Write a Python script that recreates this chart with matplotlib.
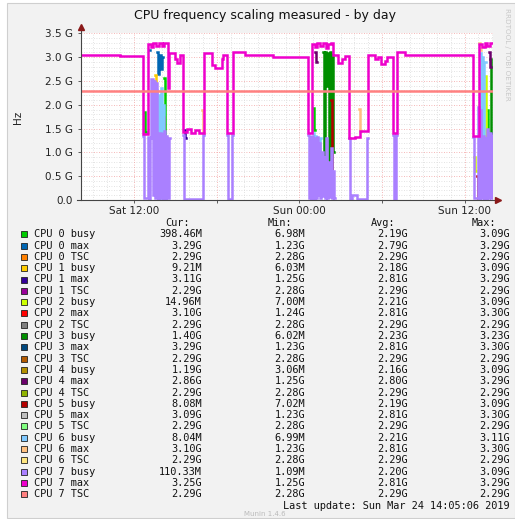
#!python3

import numpy as np
import matplotlib
matplotlib.use("Agg")
import matplotlib.pyplot as plt
from matplotlib.patches import Rectangle

nan = np.nan

# x = hours since Sat 00:00, y = GHz (munin samples every 5 minutes)
max7_t = [8.14, 10.97, 12.64, 13.00, 13.20, 13.40, 13.60, 13.80, 14.00, 14.20,
          14.45, 14.53, 14.96, 15.11, 15.33, 15.54, 15.80, 16.10, 16.40, 16.70,
          17.07, 17.65, 17.87, 18.38, 18.45, 18.74, 19.18, 20.05, 22.08, 24.62,
          24.91, 25.10, 25.30, 25.50, 25.70, 25.90, 26.10, 26.30, 26.44, 26.80,
          27.09, 27.31, 27.60, 28.03, 28.40, 28.98, 29.49, 29.71, 29.92, 30.21,
          30.36, 30.80, 31.08, 31.67, 36.61, 37.04, 37.25, 37.45, 37.65, 37.85,
          38.06]
max7_v = [3.04, 3.02, 1.38, 3.28, 3.22, 3.30, 3.24, 3.30, 3.23, 3.29,
          2.35, 3.08, 2.95, 2.87, 3.05, 1.42, 1.50, 1.40, 1.48, 1.40,
          3.08, 2.84, 2.77, 2.95, 3.05, 1.40, 3.10, 3.05, 3.00, 1.40,
          3.28, 3.22, 3.30, 3.24, 3.30, 3.20, 3.28, 3.30, 3.05, 2.87,
          2.95, 3.02, 1.30, 1.33, 1.45, 3.05, 2.95, 3.00, 2.85, 2.92,
          3.00, 1.40, 3.10, 3.05, 1.35, 3.28, 3.22, 3.30, 3.24, 3.30,
          3.30]

# CPU 7 busy: busy bursts (consecutive 5 min samples) plus idle dips
busy7_a_start, busy7_a = 13.00, [1.32, 0.03, 1.30, 2.55, 0.10, 2.50, 0.04, 2.45, 1.35, 0.03,
                                 1.40, 0.05, 1.38, 0.02, 1.45, 0.04, 1.35, 0.05, 1.30]
busy7_b_start, busy7_b = 24.77, [1.32, 0.05, 1.35, 0.03, 1.30, 0.04, 1.33, 0.10, 1.20, 0.05,
                                 1.00, 0.08, 0.90, 0.05, 1.30, 0.04, 0.80, 0.06, 1.10, 0.05,
                                 0.60, 0.04]
busy7_c_start, busy7_c = 36.97, [1.95, 0.05, 1.90, 0.04, 1.35, 0.05, 1.30, 0.03, 1.50, 0.05,
                                 1.40, 0.04, 1.35]
busy7_idle_t = [12.64, 12.72, 14.60, 15.54, 15.62, 17.00, 17.07, 18.74, 18.82, 19.10,
                19.18, 24.62, 24.70, 26.58, 27.60, 27.67, 27.82, 28.18, 28.90, 28.98,
                30.80, 30.88, 31.00, 31.08, 36.61, 36.68, 38.06]
busy7_idle_v = [1.35, 0.04, nan, 1.36, 0.03, 1.36, nan, 1.36, 0.03, 1.36,
                nan, 1.36, 0.04, nan, 1.30, 0.03, 0.10, 0.03, 1.30, nan,
                1.36, 0.03, 1.36, nan, 1.33, 0.04, 1.35]

# the other cores only show through during the busy bursts
busy0_t = [12.72, 12.79, 12.87, 14.17, 14.25, 14.33, 25.00, 25.08, 25.16, 37.62, 37.70, 37.78]
busy0_v = [1.85, 1.43, nan, 2.56, 1.26, nan, 1.93, 1.47, nan, 1.90, 1.30, nan]
max0_t = [13.08, 13.15, 13.67, 13.75, 13.83, 13.92, 14.00, 14.08]
max0_v = [3.15, nan, 3.10, 2.65, 3.05, 2.75, 3.00, nan]
busy1_t = [13.50, 13.58, 13.66]
busy1_v = [2.62, 1.90, nan]
max1_t = [15.62, 15.70, 15.78]
max1_v = [1.48, 1.30, nan]
busy2_t = [25.80, 25.88, 25.96, 36.70, 36.78, 36.86, 37.50, 37.58, 37.66]
busy2_v = [1.00, 0.50, nan, 0.90, 0.60, nan, 2.60, 1.00, nan]
busy3_t = [25.70, 25.78, 25.87, 25.95, 26.03, 26.12, 26.20, 26.28, 26.37, 26.45, 26.53,
           37.85, 37.93, 38.00]
busy3_v = [3.10, 0.30, 3.10, 2.40, 3.08, 0.50, 3.10, 0.30, 3.05, 1.00, nan,
           2.97, 1.40, nan]
max4_t = [25.10, 25.18, 25.26, 37.75, 37.83, 37.90]
max4_v = [3.10, 2.90, nan, 3.10, 2.80, nan]
busy5_t = [13.42, 13.50, 13.58, 14.08, 14.16, 14.25, 25.45, 25.52, 25.60,
           26.28, 26.36, 26.44, 36.90, 36.97, 37.05]
busy5_v = [1.95, 1.68, nan, 1.74, 0.94, nan, 0.60, 0.15, nan,
           2.10, 0.10, nan, 0.50, 0.05, nan]
busy6_t = [13.58, 13.67, 13.75, 13.83, 13.92, 14.00, 14.08, 14.17, 14.25,
           24.99, 25.07, 25.16, 25.24, 25.32, 25.41, 25.49, 25.57,
           37.10, 37.18, 37.27, 37.35, 37.43, 37.52]
busy6_v = [2.30, 0.10, 2.20, 0.05, 2.35, 0.10, 2.00, 0.05, nan,
           1.40, 0.10, 1.35, 0.20, 1.20, 0.10, 1.30, nan,
           3.08, 0.10, 3.00, 0.20, 2.90, nan]
max6_t = [16.93, 17.00, 17.07, 28.33, 28.40, 28.48, 37.05, 37.12, 37.20]
max6_v = [1.90, 1.40, nan, 1.92, 1.45, nan, 3.30, 3.15, nan]
tsc7_t = [8.14, 38.06]
tsc7_v = [2.29, 2.29]

# legend table
names = [f"CPU {c} {k}" for c in range(8) for k in ("busy", "max", "TSC")]
cur = ["398.46M", "3.29G", "2.29G", "9.21M", "3.11G", "2.29G", "14.96M", "3.10G", "2.29G",
       "1.40G", "3.29G", "2.29G", "1.19G", "2.86G", "2.29G", "8.08M", "3.09G", "2.29G",
       "8.04M", "3.10G", "2.29G", "110.33M", "3.25G", "2.29G"]
mins = ["6.98M", "1.23G", "2.28G", "6.03M", "1.25G", "2.28G", "7.00M", "1.24G", "2.28G",
        "6.02M", "1.23G", "2.28G", "3.06M", "1.25G", "2.28G", "7.02M", "1.23G", "2.28G",
        "6.99M", "1.23G", "2.28G", "1.09M", "1.25G", "2.28G"]
avgs = ["2.19G", "2.79G", "2.29G", "2.18G", "2.81G", "2.29G", "2.21G", "2.81G", "2.29G",
        "2.23G", "2.81G", "2.29G", "2.16G", "2.80G", "2.29G", "2.19G", "2.81G", "2.29G",
        "2.21G", "2.81G", "2.29G", "2.20G", "2.81G", "2.29G"]
maxs = ["3.09G", "3.29G", "2.29G", "3.09G", "3.29G", "2.29G", "3.09G", "3.30G", "2.29G",
        "3.23G", "3.30G", "2.29G", "3.09G", "3.29G", "2.29G", "3.09G", "3.30G", "2.29G",
        "3.11G", "3.30G", "2.29G", "3.09G", "3.29G", "2.29G"]

# munin default palette
colors = ["#00CC00", "#0066B3", "#FF8000", "#FFCC00", "#330099", "#990099",
          "#CCFF00", "#FF0000", "#808080", "#008F00", "#00487D", "#B35A00",
          "#B38F00", "#6B006B", "#8FB300", "#B30000", "#BEBEBE", "#80FF80",
          "#80C9FF", "#FFC080", "#FFE680", "#AA80FF", "#EE00CC", "#FF8080"]

W, H = 515, 519


def fx(x):
    return x / W


def fy(y):
    return 1 - y / H


def burst(start, vals):
    return list(start + np.arange(len(vals)) / 12.0)


def main():
    fig = plt.figure(figsize=(W / 100, H / 100), dpi=100)
    fig.patch.set_facecolor("white")
    fig.add_artist(Rectangle((fx(7), fy(518)), (W - 7) / W, 515 / H, transform=fig.transFigure,
                             facecolor="#f2f2f2", edgecolor="#cfcfcf", lw=0.8, zorder=0))

    ax = fig.add_axes([fx(81), fy(200), (493 - 81) / W, (200 - 33.3) / H])
    ax.set_facecolor("white")
    ax.set_xlim(8.137, 38.06)
    ax.set_ylim(0, 3.5)
    for s in ax.spines.values():
        s.set_visible(False)

    # grid
    for v in np.arange(0.1, 3.55, 0.1):
        major = abs(v * 2 - round(v * 2)) < 1e-6
        ax.axhline(v, color="#f2a0a0" if major else "#d9d9d9", lw=0.6,
                   ls=(0, (1, 2)), zorder=0.5)
    for h in range(9, 39):
        ax.axvline(h, color="#f2a0a0" if h % 6 == 0 else "#d9d9d9", lw=0.6,
                   ls=(0, (1, 2)), zorder=0.5)

    busy7_t = (busy7_idle_t[:2] + burst(busy7_a_start, busy7_a) + busy7_idle_t[2:13]
               + burst(busy7_b_start, busy7_b) + busy7_idle_t[13:26]
               + burst(busy7_c_start, busy7_c) + busy7_idle_t[26:])
    busy7_v = (busy7_idle_v[:2] + busy7_a + busy7_idle_v[2:13]
               + busy7_b + busy7_idle_v[13:26] + busy7_c + busy7_idle_v[26:])

    series = [
        (0, busy0_t, busy0_v), (1, max0_t, max0_v), (3, busy1_t, busy1_v),
        (4, max1_t, max1_v), (6, busy2_t, busy2_v), (9, busy3_t, busy3_v),
        (13, max4_t, max4_v), (15, busy5_t, busy5_v), (18, busy6_t, busy6_v),
        (19, max6_t, max6_v), (21, busy7_t, busy7_v), (22, max7_t, max7_v),
        (23, tsc7_t, tsc7_v),
    ]
    for idx, t, v in series:
        ax.plot(t, v, drawstyle="steps-post", color=colors[idx], lw=1.8,
                solid_joinstyle="miter", zorder=2 + idx * 0.01)

    # axes with arrows
    ax.plot([0, 0], [0, 1.03], transform=ax.transAxes, color="#444444", lw=0.8,
            clip_on=False, zorder=5)
    ax.plot([-0.01, 1.01], [0, 0], transform=ax.transAxes, color="#444444", lw=0.8,
            clip_on=False, zorder=5)
    ax.plot([0], [1.035], marker="^", ms=4, color="#8b1a1a", transform=ax.transAxes,
            clip_on=False, zorder=6)
    ax.plot([1.012], [0], marker=">", ms=4, color="#8b1a1a", transform=ax.transAxes,
            clip_on=False, zorder=6)

    yt = np.arange(0, 3.55, 0.5)
    ax.set_yticks(yt)
    ax.set_yticklabels(["0.0"] + [f"{v:.1f} G" for v in yt[1:]])
    ax.set_xticks([12, 18, 24, 30, 36])
    ax.set_xticklabels(["Sat 12:00", "", "Sun 00:00", "", "Sun 12:00"])
    ax.tick_params(axis="both", length=2.5, width=0.6, color="#444444",
                   labelsize=7.5, labelcolor="#222222")
    ax.tick_params(axis="y", pad=3.5)
    ax.tick_params(axis="x", pad=1.5)

    fig.text(fx(265), fy(16), "CPU frequency scaling measured - by day",
             ha="center", va="center", fontsize=9, color="#111111")
    fig.text(fx(18), fy(117), "Hz", rotation=90, ha="center", va="center",
             fontsize=7.5, color="#222222")
    fig.text(fx(507), fy(8), "RRDTOOL / TOBI OETIKER", rotation=270, ha="center",
             va="top", fontsize=5.2, color="#c8c8c8")

    # legend table
    mono = dict(family="DejaVu Sans Mono", fontsize=7.4, color="#111111", va="center")
    for x, head in ((190, "Cur:"), (292.5, "Min:"), (395, "Avg:"), (496, "Max:")):
        fig.text(fx(x), fy(223.3), head, ha="right", **mono)
    for i in range(len(names)):
        y = 234.3 + i * 11.3
        fig.add_artist(Rectangle((fx(20.7), fy(y + 3)), 6 / W, 6 / H,
                                 transform=fig.transFigure, facecolor=colors[i],
                                 edgecolor="#222222", lw=0.6))
        fig.text(fx(33.5), fy(y), names[i], ha="left", **mono)
        fig.text(fx(202), fy(y), cur[i], ha="right", **mono)
        fig.text(fx(305), fy(y), mins[i], ha="right", **mono)
        fig.text(fx(407.5), fy(y), avgs[i], ha="right", **mono)
        fig.text(fx(509.5), fy(y), maxs[i], ha="right", **mono)
    fig.text(fx(509.5), fy(505.7), "Last update: Sun Mar 24 14:05:06 2019", ha="right", **mono)
    fig.text(fx(265), fy(513.5), "Munin 1.4.6", ha="center", va="center",
             fontsize=5, color="#bbbbbb")

    fig.savefig("out.png", dpi=100, facecolor=fig.get_facecolor())


if __name__ == "__main__":
    main()
